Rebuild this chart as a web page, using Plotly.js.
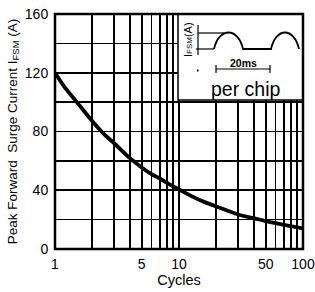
<!DOCTYPE html>
<html>
<head>
<meta charset="utf-8">
<script src="https://cdn.plot.ly/plotly-3.0.1.min.js"></script>
<style>html,body{margin:0;padding:0;background:#fff;}#chart{width:315px;height:292px;}</style>
</head>
<body>
<div id="chart"></div>
<script>
// Data
const cycles = [1, 1.2, 1.5, 2, 2.5, 3, 4, 5, 6, 7, 8, 10, 15, 20, 30, 40, 50, 70, 100];
const surgeCurrent = [120, 110, 100, 87, 78, 72, 62, 55.5, 51, 48, 45, 40.5, 33, 29, 23.5, 21, 19, 16.5, 14];

const xTickVals = [1,2,3,4,5,6,7,8,9,10,20,30,40,50,60,70,80,90,100];
const xTickText = ['1','','','','5','','','','','10','','','','50','','','','','100'];
const yTickVals = [0,20,40,60,80,100,120,140,160];
const yTickText = ['0','','40','','80','','120','','160'];

const FONT = 'Liberation Sans, Arial, Helvetica, sans-serif';

// plot area in pixels (for inset drawing conversions)
const L = 55, R = 303, T = 14, B = 249;
const px = v => (v - L) / (R - L);
const py = v => (B - v) / (B - T);

const trace = {
  x: cycles, y: surgeCurrent, type: 'scatter', mode: 'lines',
  line: {color: '#000', width: 3.8, shape: 'spline', smoothing: 1},
  hoverinfo: 'skip'
};

function line(x0, y0, x1, y1, w) {
  return {type: 'line', xref: 'paper', yref: 'paper', x0: px(x0), y0: py(y0), x1: px(x1), y1: py(y1),
          line: {color: '#000', width: w || 1.2}, layer: 'above'};
}

function P(x, y) { return px(x).toFixed(4) + ',' + py(y).toFixed(4); }
const wave = 'M' + P(214, 49) + ' C' + P(219, 27) + ' ' + P(238, 27) + ' ' + P(243, 49) +
             ' L' + P(271, 49) + ' C' + P(276, 27) + ' ' + P(294, 27) + ' ' + P(299, 49);

const shapes = [
  {type: 'rect', xref: 'paper', yref: 'paper', x0: px(178), x1: 1, y0: py(100), y1: 1, fillcolor: '#fff', line: {color: '#000', width: 1.5}, layer: 'above'},
  {type: 'path', xref: 'paper', yref: 'paper', path: wave, line: {color: '#000', width: 1.8}, layer: 'above'},
  line(198, 33, 224, 33), line(196, 49, 214, 49),
  line(198, 25, 198, 55),
  line(216, 69, 270, 69), line(216, 65, 216, 73), line(270, 65, 270, 73),
  line(197, 70.5, 198.5, 70.5, 2),
  {type: 'rect', xref: 'paper', yref: 'paper', x0: 0, x1: 1, y0: 0, y1: 1, line: {color: '#000', width: 2.5}, layer: 'above'}
];

const annotations = [
  {xref: 'paper', yref: 'paper', x: px(188), y: py(40), xanchor: 'center', yanchor: 'middle',
   text: 'I<span style="font-size:8px">FSM</span>(A)', textangle: -90, showarrow: false,
   font: {family: FONT, size: 11, color: '#000'}},
  {xref: 'paper', yref: 'paper', x: px(243), y: py(55), xanchor: 'center', yanchor: 'top', text: '<b>20ms</b>', showarrow: false,
   font: {family: FONT, size: 10.5, color: '#000'}},
  {xref: 'paper', yref: 'paper', x: px(246), y: py(76), xanchor: 'center', yanchor: 'top', text: 'per chip', showarrow: false,
   font: {family: FONT, size: 19.5, color: '#000'}}
];

const layout = {
  width: 315, height: 292,
  margin: {l: L, r: 315 - R, t: T, b: 292 - B, pad: 0},
  paper_bgcolor: '#fff', plot_bgcolor: '#fff',
  showlegend: false,
  font: {family: FONT, size: 14, color: '#000'},
  xaxis: {
    type: 'log', range: [0, 2], tickmode: 'array', tickvals: xTickVals, ticktext: xTickText,
    showgrid: true, gridcolor: '#000', gridwidth: 1.7, zeroline: false, showline: false,
    ticks: 'outside', ticklen: 2, tickcolor: 'rgba(0,0,0,0)',
    tickfont: {family: FONT, size: 14, color: '#000'},
    title: {text: 'Cycles', font: {family: FONT, size: 14.5, color: '#000'}, standoff: 4},
    fixedrange: true
  },
  yaxis: {
    range: [0, 160], tickmode: 'array', tickvals: yTickVals, ticktext: yTickText,
    showgrid: true, gridcolor: '#000', gridwidth: 1.7, zeroline: false, showline: false,
    ticks: 'outside', ticklen: 3, tickcolor: 'rgba(0,0,0,0)',
    tickfont: {family: FONT, size: 14, color: '#000'},
    title: {text: 'Peak Forward  Surge Current I<sub>FSM</sub> (A)', font: {family: FONT, size: 13.5, color: '#000'}, standoff: 4},
    fixedrange: true
  },
  shapes: shapes,
  annotations: annotations
};

Plotly.newPlot('chart', [trace], layout, {staticPlot: true, displayModeBar: false});
</script>
</body>
</html>
